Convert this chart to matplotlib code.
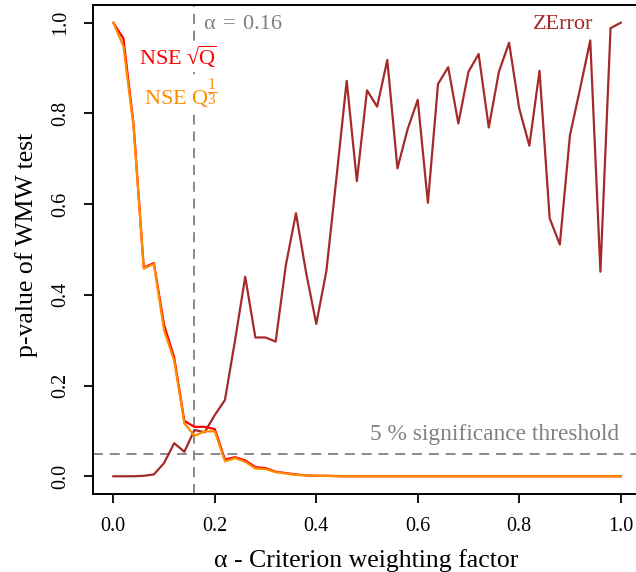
import matplotlib
matplotlib.use("Agg")
import matplotlib.pyplot as plt

plt.rcParams['font.family'] = ['Liberation Serif', 'DejaVu Serif']
plt.rcParams['mathtext.fontset'] = 'custom'
plt.rcParams['mathtext.rm'] = 'Liberation Serif'
plt.rcParams['mathtext.it'] = 'Liberation Serif:italic'
plt.rcParams['mathtext.bf'] = 'Liberation Serif:bold'

# ---- data ----
alpha = [0.00, 0.02, 0.04, 0.06, 0.08, 0.10, 0.12, 0.14, 0.16, 0.18,
         0.20, 0.22, 0.24, 0.26, 0.28, 0.30, 0.32, 0.34, 0.36, 0.38,
         0.40, 0.42, 0.44, 0.46, 0.48, 0.50, 0.52, 0.54, 0.56, 0.58,
         0.60, 0.62, 0.64, 0.66, 0.68, 0.70, 0.72, 0.74, 0.76, 0.78,
         0.80, 0.82, 0.84, 0.86, 0.88, 0.90, 0.92, 0.94, 0.96, 0.98,
         1.00]

zerror = [0.0, 0.0, 0.0, 0.001, 0.004, 0.029, 0.073, 0.054, 0.102, 0.097,
          0.135, 0.168, 0.300, 0.440, 0.306, 0.306, 0.297, 0.465, 0.580, 0.449,
          0.336, 0.453, 0.660, 0.872, 0.651, 0.851, 0.815, 0.918, 0.679, 0.765,
          0.830, 0.603, 0.865, 0.902, 0.778, 0.892, 0.931, 0.769, 0.892, 0.956,
          0.811, 0.729, 0.894, 0.569, 0.511, 0.752, 0.855, 0.961, 0.451, 0.988,
          1.000]

nse_sqrt = [1.0, 0.965, 0.775, 0.460, 0.470, 0.334, 0.262, 0.122, 0.109, 0.109,
            0.104, 0.037, 0.042, 0.035, 0.020, 0.018, 0.010, 0.007, 0.004, 0.002,
            0.001, 0.001, 0.0005, 0.0, 0.0, 0.0, 0.0, 0.0, 0.0, 0.0,
            0.0, 0.0, 0.0, 0.0, 0.0, 0.0, 0.0, 0.0, 0.0, 0.0,
            0.0, 0.0, 0.0, 0.0, 0.0, 0.0, 0.0, 0.0, 0.0, 0.0,
            0.0]

nse_cbrt = [1.0, 0.948, 0.770, 0.458, 0.468, 0.322, 0.255, 0.117, 0.089, 0.099,
            0.099, 0.033, 0.040, 0.032, 0.017, 0.016, 0.009, 0.006, 0.003, 0.002,
            0.001, 0.001, 0.0, 0.0, 0.0, 0.0, 0.0, 0.0, 0.0, 0.0,
            0.0, 0.0, 0.0, 0.0, 0.0, 0.0, 0.0, 0.0, 0.0, 0.0,
            0.0, 0.0, 0.0, 0.0, 0.0, 0.0, 0.0, 0.0, 0.0, 0.0,
            0.0]

alpha_opt = 0.16
threshold = 0.05
xticks = [0.0, 0.2, 0.4, 0.6, 0.8, 1.0]
yticks = [0.0, 0.2, 0.4, 0.6, 0.8, 1.0]

# ---- figure ----
W, H = 636, 572
fig = plt.figure(figsize=(W / 100, H / 100), dpi=100)
ax = fig.add_axes([93 / W, (H - 494.4) / H, (641 - 93) / W, (494.4 - 4.6) / H])

grey = '#808080'
c_z = '#A52A2A'
c_r = '#FF0000'
c_o = '#FF8C00'
dash = (0, (5.5, 3.8))

ax.axvline(alpha_opt, color=grey, lw=1.3, ls=dash, zorder=1)
ax.axhline(threshold, color=grey, lw=1.3, ls=dash, zorder=1)

ax.plot(alpha, zerror, color=c_z, lw=1.6, zorder=3)
ax.plot(alpha, nse_sqrt, color=c_r, lw=1.6, zorder=4)
ax.plot(alpha, nse_cbrt, color=c_o, lw=1.6, zorder=5)

ax.set_xlim(-0.04, 1.04)
ax.set_ylim(-0.04, 1.04)
ax.set_xticks(xticks)
ax.set_xticklabels(['%.1f' % v for v in xticks])
ax.set_yticks(yticks)
ax.set_yticklabels(['%.1f' % v for v in yticks], rotation=90, va='center')
ax.tick_params(axis='both', direction='out', length=6.5, width=1.3,
               labelsize=14.5, pad=10, colors='black')
for s in ['left', 'bottom', 'top', 'right']:
    ax.spines[s].set_linewidth(1.4)

# annotations
ax.text(0.179, 0.997, 'α\u2004=\u20040.16', color=grey, fontsize=16,
        ha='left', va='center', zorder=6)
ax.text(0.947, 0.997, 'ZError', color=c_z, fontsize=16,
        ha='right', va='center', zorder=6)
ax.text(0.205, 0.925, r'NSE √$\overline{\mathrm{Q}}$', color=c_r, fontsize=16,
        ha='right', va='center', zorder=2,
        bbox=dict(facecolor='white', edgecolor='none', pad=1.5))
ax.text(0.205, 0.843, r'NSE $\mathrm{Q}^{\dfrac{1}{3}}$', color=c_o, fontsize=16,
        ha='right', va='center', zorder=2,
        bbox=dict(facecolor='white', edgecolor='none', pad=1.5))
ax.text(0.997, 0.091, '5 % significance threshold', color=grey, fontsize=16.8,
        ha='right', va='center', zorder=6)

fig.text(366 / W, 5 / H, 'α - Criterion weighting factor', fontsize=18.5,
         ha='center', va='baseline')
fig.text(27 / W, (H - 245) / H, 'p-value of WMW test', fontsize=18.5,
         ha='center', va='center', rotation=90)

fig.savefig('out.png', dpi=100)
